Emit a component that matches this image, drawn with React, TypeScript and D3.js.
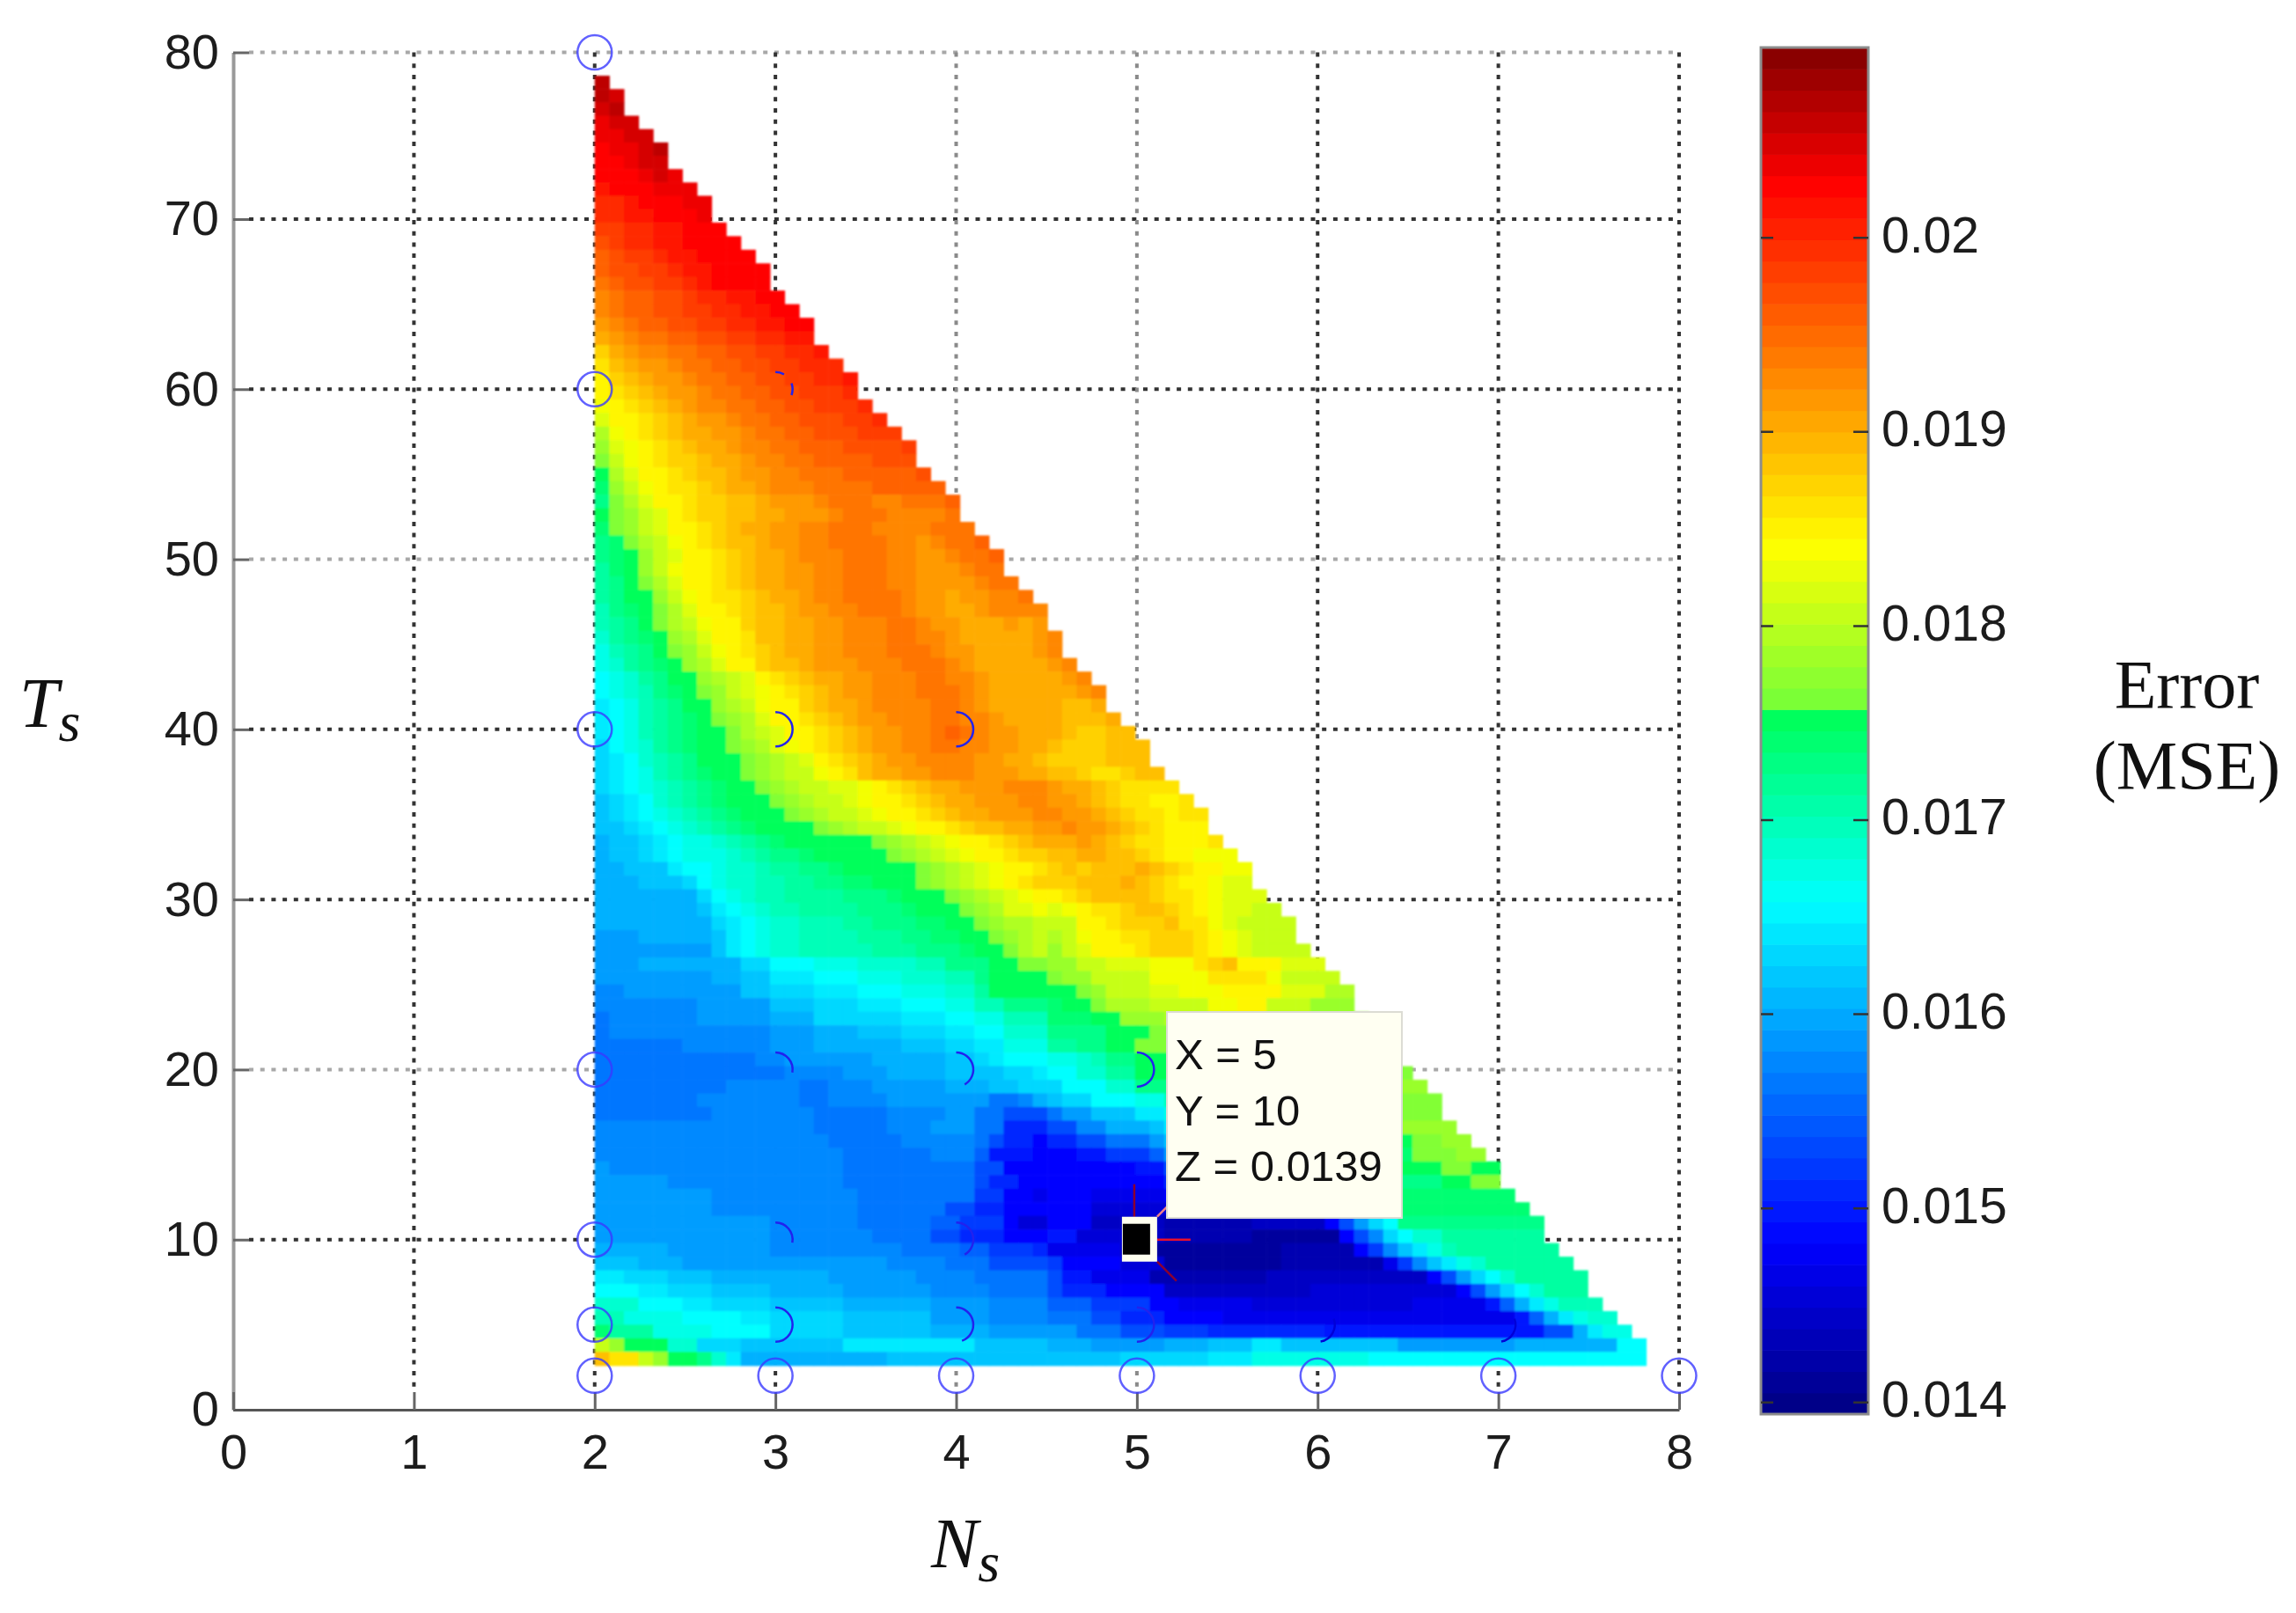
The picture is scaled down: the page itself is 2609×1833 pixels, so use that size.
import React, { useRef, useEffect } from 'react';
import * as d3 from 'd3';

const xTicks = [0, 1, 2, 3, 4, 5, 6, 7, 8];
const yTicks = [0, 10, 20, 30, 40, 50, 60, 70, 80];
const barTicks = [0.014, 0.015, 0.016, 0.017, 0.018, 0.019, 0.02];
const errorRange = [0.01394, 0.02098];

// faint grid lines, the picture is resampled so these came out lighter
const fadedY = [80, 50, 20];
const fadedX = [4, 5];

// N_s of the first column, width of one column, T_s of the top row, height of one row
const nsStart = 2;
const nsStep = 0.0808;
const tsStart = 78.6;
const tsStep = 0.8;

// first row that is filled, for each column
const columnTops = [
  0, 1, 3, 4, 5, 7, 8, 9, 11, 12, 13, 14, 16, 17, 18, 20, 21, 22, 24, 25, 26, 27, 29, 30, 31,
  33, 34, 35, 37, 38, 39, 41, 43, 44, 45, 47, 48, 49, 51, 52, 53, 54, 56, 57, 58, 60, 61, 62,
  64, 65, 66, 67, 69, 70, 71, 73, 74, 75, 77, 78, 79, 80, 82, 83, 84, 86, 87, 88, 90, 91, 92, 93,
];

// error levels per row, top to bottom: letter = level (a lowest .. Z highest), number = how many cells
const levels = 'abcdefghijklmnopqrstuvwxyzABCDEFGHIJKLMNOPQRSTUVWXYZ';
const heatRows = [
  'X1',
  'X1W1',
  'W1X1',
  'V1W2',
  'V2W2',
  'U1V2W1X1',
  'U2V1W2',
  'U3V1W1V1',
  'T1U3V3',
  'S2T1U3V2',
  'S2T2U3V1',
  'R2S2T2U3',
  'Q1R1S2T2U4',
  'P1Q1R2S1T2U4',
  'P1Q2R2S1T2U4',
  'O1P1Q2R2S1T1U4',
  'N1O1P2Q2R1S2T2U2',
  'N1O1P2Q2R2S2T2U2',
  'M1N1O1P2Q2R2S2T2U2',
  'L1M1N1O2P2Q2R2S2T2',
  'J1L1M1N2O2P2Q2R2S2T1',
  'I1K1L1M2N1O2P2Q2R2S3',
  'H1J1K1L1M2N1O2P2Q2R2S2T1',
  'H1I1J1K1L1M2N1O2P2Q2R3S1',
  'G1H1I1J1K1L1M1N2O2P2Q2R3S1',
  'F1H2I1J1K1L1M2N1O2P2Q3R2S1',
  'D1G1H1I1J1K1L2M2N1O2P2Q3R3',
  'C1F1G1H1I1J1K1L2M1N2O2P3Q4R1',
  'B1E1G1H1I1J2K1L2M1N2O2P4Q3',
  'A1D1F1H2I1J1K2L1M2N2O3P5Q1',
  'z1C1E1G1H1I2J1K1L2M1N3O4P4',
  'y1B1D1F1H2I1J2K2L1M3N1O3N2O3P1',
  'A1B1C1E1F1H1I1J2K2L2M3N1O3N4O2',
  'z1B1C1E1F1H2I1J1K1L2M2N2O3N4O3',
  'y1z1B1D1E1G1H1I1J1K2L1M2N2O4N2M1N1O2P1',
  'y1z1A1C1E1F1H2I1J1K1L2M1N3O3N2M2N1O2P1',
  'x1z1A1C1E1G1H2I1J1K1L2M2N2O3N2M3N1O2',
  'x1y1A1B1D1F1H2I1J1K1L2M2N2O3N2M4N1O2',
  'x1y1A2C1E1G1H1I2J1K1L2M1N2O4N1M2L1M2N2O1',
  'w1y1z1A1B1D1F1H2I1J1K2L1M2N2O3N1M2L2M1N3',
  'w1x1y1A1B1D1E1G1H2J1K2L2M2N3O2N1M2L3M1L1M1',
  'v1x1y1z1A1C1D1F1H2I1K2L2M2N3O2N2M1L5M1N1',
  'u1w1x1y1A1B1C1E1G1H1I1J1K1L2M2N3O3N1M2L4M1N1',
  'u1v1x1y1z1A1C1D1F1H2J1K2L1M3N3O3N1M1L5M1N1',
  't1u1v1x1y1A2C1D1E1F1H1I1J1K1L2M2N3O2N2M1L5M1N1',
  't1u1v1w1y1z1A1B1C1E1F1G1H1I1J1K1L1M2N3O3N1M1L6M1N1',
  's1t1u1w1x1y1A2C1D1E1G1H2J1K1L2M1N4O2N1M1L5K2L1',
  's1t1u1w1x1y1z1A1B1C1D1F1H2I1J1K1L1M2N3O2N2M1L4K3L1',
  's1t1u1w1x1y1z1A2B1D1E1F1H2I1J1K1L1M2N2O1P1O1N1M2L3K1J2K2',
  'r1t1u1v1x1y1z1A2B1C1D1F1G1H1I1J1K1L1M2N2O2N2M2L2K1J3K3',
  'r1s1t1v1w1x1y1A3B1C1D1E1F1H1I1J1K1L1M2N4M2L2K1J4K1',
  'r1s1t1u1w1x1y1z1A2B1C1D1E2G1H1I1K1L2M2N3M3L2K2J1I2J1K2',
  'r1s1t1u1v1w1x1y1z1A2B1C1D1E2F2G1H1I1J1K1L2M3N3M1L2K1J1I4',
  'q1r1s1t1v1w1x1y1z1A3B1C1D1E2F1G1H2I1J1K1L2M3N2M2L1K1J1I2H2I1',
  'q1r1s1t1u1v1w1x1y1z1A3B1C1D1E2F1G1H2I1J1K1L2M3N2M2L1K1J1I2H1I2',
  'q2r1s1t1u1v1w1x1y1z1A4B1C1D1E2F1G1H2I1J1K2L2M2N1M2L1K1J1I1H3I2',
  'p1q2r1s1t1u2v1w1x1y1z1A6B1C1D1E1F1G1H2I1J1K1L3M1L1K1J1I2H3I1',
  'p1q2r1s1t1u3v1w1x1y2z1A5B1C1D1E1F1G1H2I1J2K2L2K2J1I1H2G3',
  'p2q3s1t2u1v2w1x2y2z1A5B1C1D1E1F1G1H2I1J1K1J1K3L1K1J1I1H2G2',
  'p3q3r1t1u1v2w2x2y2z2A3B1C1D1E1F1G1H1I1J3K3L1K1J1I1H2G1F2',
  'p7r1t1u1v1w2x4y3z1A3B1C1D1E1F1G1H2I1J1K4J1I2H1G1F3',
  'p7q1s1t1u1v1w2x4y3z1A3B1C1D1F2G1F1G1H1I2J1K2J1I1H1G1F2E2',
  'p8r1s1t1u1v2w3x2y3z2A2B1C1D2E3H2I1J3K1I2G1F1E4',
  'o3p5q1s1t1u1v2w4x3y2z2A2B1C1D1E1D1E1G1H2I2J3I1H1G1F1E3',
  'o8q1s1t1u1v2w5x3y3z1A2B1D1E1C1E1F1H3I1J3I1H1G1F1E4',
  'o3p7r2t3u3v4w2y3A2B2C2E2F3G3I1J1K1H3F3E2',
  'o8p2q2s3t3u3v3w2y1A4B1C2E4G4I4G1E4',
  'n2o8q2r3s3t3u3v2x1A6B1C1E3F2G3H4F3D2',
  'n7o5q3r3s3t3u2w2y3z1A2B1D3E4G2H2E3C3',
  'm1n6o5p3r6s3t2u2w3z3A2C3D4E3D3C4',
  'm1n11o3p3q3r3s2t2v3y4A3B3C4D4C4B4',
  'm6n6o3p6q3r2s2u3x2y2A2B3C5D5C4B4A4',
  'm11n2o6p5q2r1s1t3u2v1w1y2A3B3C5D5C4B5A4',
  'm13n4o3p4q4r2s1t2v2x2A3B3C5D2C3B3',
  'm9n5m2n3o5p3q2r2r1t3v2y3A3B4C4D3C3B3C2',
  'm7n7m2n4o7m2n1p1q1r2t3u2w2y3z3A3B3C2B3C1',
  'm8n7m5n4o2m2k3m1o2q3s2u2w3x3y3A3B3B2C3',
  'n15m5n3o3m2i3k2n2p3q1s2u3w3y3A3B2C5',
  'n16m5n5m1k1i2g1i2k2m3o1q2s3v3x3z3A3B2C3',
  'n17m6n3l1h3g3h2j3l1o2q3s3v3y3z3B3C3A2',
  'o1n16m9k2g9h2k2n2q3t3v3y3A3B2A2',
  'o5n12m9k1i2g10i2l2o3r3t3v3y3A2B2A3',
  'o8n10m8j2g2f1g3f5g2i2l3o3r3u3z9',
  'o8n10m6k2i2g6e5e4f4g2k1n1q1s1u1w1z9',
  'o12n6m5l2j3g1e2g3d5c6d5g1k1o1r1t1y10',
  'o12n7m4k2i3g3h2e4d2c6b6g1k1n1r1t1v2x8',
  'p5o7n9m4l2j3i1f5d2b9c5g1j1n1q1s1u1w1x7',
  'q3p3o14n4m3k4j1g4e3b8c7f1j1n1q1s1u1v1x6',
  's2r3q3p8o6n4m5k1h2f4c8d11g1k1o1r1t1v1x5',
  't3s2r3q4p5o6n4m4k1i3g4d10e10g1k1o1r1t1v1x3',
  'v3t3s2r4q5p6o4n4l3j4g2f5e11f5h1l1p1s1u1w3',
  'w2u4t4s2r5q6o4n4m3k2i3g4f20h1l1p1s1u1v2',
  'z1x3u4t4r5q6p4o6m3k3j3i8h15k2p1s1u2',
  'E1C1A3v2r3q7s9q5p3o5p3q3s2q8o8p7t2',
  'K1I2E1C1A2y1v1s1p10q16r6s3u8t19',
];

// sample points of the search, whole circles [Ns, Ts]
const fullCircles = [
  [2, 80], [2, 60], [2, 40], [2, 20], [2, 10], [2, 5], [2, 2],
  [3, 2], [4, 2], [5, 2], [6, 2], [7, 2], [8, 2],
];
// circles that the surface partly hides [Ns, Ts, from degrees, to degrees]
const partCircles = [
  [3, 60, 0, 30], [3, 60, 70, 110],
  [3, 40, 0, 180], [4, 40, 0, 180],
  [3, 20, 0, 100], [4, 20, 0, 150], [5, 20, 0, 180],
  [3, 10, 0, 100], [4, 10, 0, 150],
  [3, 5, 0, 180], [4, 5, 0, 160], [5, 5, 0, 180],
  [6, 5, 70, 170], [7, 5, 70, 170],
];

const tipLines = ['X = 5', 'Y = 10', 'Z = 0.0139'];

const sansFont = '"Liberation Sans", Arial, sans-serif';
const serifFont = '"Liberation Serif", "Times New Roman", serif';

const App = () => {
  const svgRef = useRef(null);

  useEffect(() => {
    const svg = d3.select(svgRef.current);
    svg.selectAll('*').remove();

    const x = d3.scaleLinear().domain([0, 8]).range([265, 1908]);
    const y = d3.scaleLinear().domain([0, 70, 80]).range([1602, 249, 59.5]);

    // jet colormap as it looks on the bar, with the jump in the greens
    const [lo, hi] = errorRange;
    const at = (t: number) => lo + t * (hi - lo);
    const color = d3.scaleLinear<string>()
      .domain([0, 0.125, 0.375, 0.51, 0.512, 0.635, 0.9, 1].map(at))
      .range(['#000080', '#0000ff', '#00ffff', '#00ff5a', '#6eff3c', '#ffff00', '#ff0000', '#800000'])
      .clamp(true);

    const barY = d3.scaleLinear().domain(errorRange).range([1607, 54]);

    svg.append('defs').append('filter')
      .attr('id', 'soft')
      .attr('x', '-2%').attr('y', '-2%').attr('width', '104%').attr('height', '104%')
      .append('feGaussianBlur')
      .attr('stdDeviation', 1.1);

    // grid goes under the surface
    const grid = svg.append('g')
      .attr('fill', 'none')
      .attr('stroke-width', 4)
      .attr('stroke-dasharray', '5 7.7');
    grid.selectAll('.gy')
      .data(yTicks.filter(d => d > 0))
      .enter().append('line')
      .attr('x1', x(0) + 18).attr('x2', x(8))
      .attr('y1', d => y(d)).attr('y2', d => y(d))
      .attr('stroke', d => (fadedY.includes(d) ? '#a8a8a8' : '#333'));
    grid.selectAll('.gx')
      .data(xTicks.filter(d => d > 0))
      .enter().append('line')
      .attr('y1', y(80)).attr('y2', y(0) - 20)
      .attr('x1', d => x(d)).attr('x2', d => x(d))
      .attr('stroke', d => (fadedX.includes(d) ? '#8a8a8a' : '#333'));

    // surface cells
    const cells = heatRows.flatMap((row, r) => {
      const vals: number[] = [];
      for (const m of row.matchAll(/([a-zA-Z])(\d*)/g)) {
        const n = m[2] ? +m[2] : 1;
        for (let i = 0; i < n; i++) vals.push(lo + ((levels.indexOf(m[1]) + 0.5) / levels.length) * (hi - lo));
      }
      return columnTops
        .map((top, c) => ({ r, c, top, value: vals[Math.min(c, vals.length - 1)] }))
        .filter(d => r >= d.top);
    });

    svg.append('g')
      .attr('filter', 'url(#soft)')
      .selectAll('rect')
      .data(cells)
      .enter().append('rect')
      .attr('x', d => x(nsStart + d.c * nsStep))
      .attr('y', d => y(tsStart - d.r * tsStep))
      .attr('width', x(nsStep) - x(0) + 0.6)
      .attr('height', d => y(tsStart - (d.r + 1) * tsStep) - y(tsStart - d.r * tsStep) + 0.6)
      .attr('fill', d => color(d.value));

    // axes
    const axisLeft = svg.append('g')
      .attr('transform', `translate(${x(0)},0)`)
      .call(d3.axisLeft(y).tickValues(yTicks).tickSizeInner(-18).tickSizeOuter(0).tickPadding(16));
    const axisBottom = svg.append('g')
      .attr('transform', `translate(0,${y(0)})`)
      .call(d3.axisBottom(x).tickValues(xTicks).tickSizeInner(-20).tickSizeOuter(0).tickPadding(27));
    [axisLeft, axisBottom].forEach(a => {
      a.selectAll('text')
        .attr('font-family', sansFont)
        .attr('font-size', 56)
        .attr('fill', '#1c1c1c');
      a.selectAll('line').attr('stroke', '#666').attr('stroke-width', 3);
    });
    axisLeft.select('.domain').attr('stroke', '#999').attr('stroke-width', 4);
    axisBottom.select('.domain').attr('stroke', '#555').attr('stroke-width', 3);

    // sample circles
    const circleColor = '#3a3aff';
    svg.append('g')
      .selectAll('circle')
      .data(fullCircles)
      .enter().append('circle')
      .attr('cx', d => x(d[0]))
      .attr('cy', d => y(d[1]))
      .attr('r', 19.5)
      .attr('fill', 'none')
      .attr('stroke', circleColor)
      .attr('stroke-opacity', 0.8)
      .attr('stroke-width', 2.5);

    const arc = d3.arc();
    svg.append('g')
      .selectAll('path')
      .data(partCircles)
      .enter().append('path')
      .attr('transform', d => `translate(${x(d[0])},${y(d[1])})`)
      .attr('d', d => arc({
        innerRadius: 19.5,
        outerRadius: 19.5,
        startAngle: (d[2] * Math.PI) / 180,
        endAngle: (d[3] * Math.PI) / 180,
      }))
      .attr('fill', 'none')
      .attr('stroke', d => (d[0] > 5 ? '#0000d8' : '#2222ee'))
      .attr('stroke-width', 2.5);

    // picked point with its crosshair and data tip
    const px = x(5);
    const py = y(10);
    const pick = svg.append('g');
    const spokes = [
      [-3, -63, -3, -26, '#8a0030'],
      [23, -26, 43, -46, '#f0808c'],
      [23, 0, 61, 0, '#e8102c'],
      [23, 25, 45, 47, '#8a0030'],
    ];
    pick.selectAll('line')
      .data(spokes)
      .enter().append('line')
      .attr('x1', d => px + d[0]).attr('y1', d => py + d[1])
      .attr('x2', d => px + d[2]).attr('y2', d => py + d[3])
      .attr('stroke', d => d[4])
      .attr('stroke-width', 2.5);
    pick.append('rect')
      .attr('x', px - 17).attr('y', py - 26)
      .attr('width', 40).attr('height', 51)
      .attr('fill', '#fffff0');
    pick.append('rect')
      .attr('x', px - 16).attr('y', py - 18)
      .attr('width', 31).attr('height', 35)
      .attr('fill', '#000');

    const tip = svg.append('g');
    tip.append('rect')
      .attr('x', 1326).attr('y', 1150)
      .attr('width', 267).attr('height', 234)
      .attr('fill', '#fffff2')
      .attr('stroke', '#dcdcd4')
      .attr('stroke-width', 2);
    tip.selectAll('text')
      .data(tipLines)
      .enter().append('text')
      .attr('x', 1335)
      .attr('y', (d, i) => 1215 + i * 63.5)
      .attr('font-family', sansFont)
      .attr('font-size', 49)
      .attr('fill', '#111')
      .text(d => d);

    // colorbar
    const bands = d3.range(64).map(i => i);
    const bar = svg.append('g');
    bar.selectAll('rect')
      .data(bands)
      .enter().append('rect')
      .attr('x', 2001)
      .attr('width', 122)
      .attr('y', i => barY(at((i + 1) / 64)))
      .attr('height', 1553 / 64 + 0.6)
      .attr('fill', i => color(at((i + 0.5) / 64)));
    bar.append('rect')
      .attr('x', 2001).attr('y', 54)
      .attr('width', 122).attr('height', 1553)
      .attr('fill', 'none')
      .attr('stroke', '#8c8c8c')
      .attr('stroke-width', 3);
    bar.selectAll('.tl')
      .data(barTicks)
      .enter().append('path')
      .attr('d', d => `M2001,${barY(d)}h14M2123,${barY(d)}h-17`)
      .attr('stroke', '#333')
      .attr('stroke-width', 2.5);
    const barAxis = svg.append('g')
      .attr('transform', 'translate(2123,0)')
      .call(d3.axisRight(barY).tickValues(barTicks).tickFormat(d => String(d)).tickSize(0).tickPadding(15));
    barAxis.select('.domain').remove();
    barAxis.selectAll('text')
      .attr('dy', '0.28em')
      .attr('font-family', sansFont)
      .attr('font-size', 57)
      .attr('fill', '#1c1c1c');

    // titles
    const title = (tx: number, ty: number, main: string, sub: string) => {
      const t = svg.append('text')
        .attr('x', tx).attr('y', ty)
        .attr('font-family', serifFont)
        .attr('font-style', 'italic')
        .attr('font-size', 80)
        .attr('fill', '#111');
      t.append('tspan').text(main);
      t.append('tspan').attr('dy', 16).attr('font-size', 64).text(sub);
    };
    title(1058, 1781, 'N', 's');
    title(22, 826, 'T', 's');

    svg.selectAll('.err')
      .data(['Error', '(MSE)'])
      .enter().append('text')
      .attr('x', 2485)
      .attr('y', (d, i) => 804 + i * 92)
      .attr('text-anchor', 'middle')
      .attr('font-family', serifFont)
      .attr('font-size', 78)
      .attr('fill', '#111')
      .text(d => d);
  }, []);

  return (
    <svg
      ref={svgRef}
      width={2609}
      height={1833}
      style={{ position: 'absolute', left: 0, top: 0, background: '#fff' }}
    />
  );
};

export default App;
